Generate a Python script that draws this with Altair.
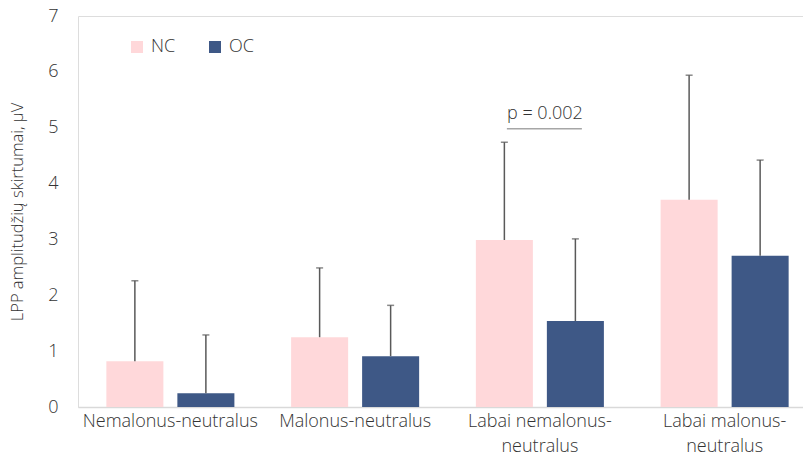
import altair as alt
import pandas as pd

# Conditions and group statistics (mean and SD of LPP amplitude differences, µV)
categories = [
    "Nemalonus-neutralus",
    "Malonus-neutralus",
    "Labai nemalonus-neutralus",
    "Labai malonus-neutralus",
]
groups = ["NC", "OC"]
nc_mean = [0.82, 1.25, 2.99, 3.71]
nc_sd = [1.44, 1.24, 1.75, 2.23]
oc_mean = [0.245, 0.91, 1.54, 2.71]
oc_sd = [1.045, 0.91, 1.47, 1.71]

p_label = "p = 0.002"
p_category = "Labai nemalonus-neutralus"
p_level = 4.98

colors = ["#ffd8da", "#3e5886"]
font = "Open Sans"
text_color = "#333333"

rows = []
for g, means, sds in (("NC", nc_mean, nc_sd), ("OC", oc_mean, oc_sd)):
    for c, m, s in zip(categories, means, sds):
        rows.append({"cat": c, "grp": g, "mean": m, "upper": m + s})
df = pd.DataFrame(rows)

x_enc = alt.X(
    "cat:N",
    sort=categories,
    title=None,
    scale=alt.Scale(range=[0, 739], paddingInner=0.307, paddingOuter=0.1535),
    axis=alt.Axis(
        labelAngle=0,
        labelFont=font,
        labelFontSize=18,
        labelFontWeight=300,
        labelColor=text_color,
        labelPadding=5,
        labelLimit=400,
        labelLineHeight=25,
        labelExpr="length(datum.label) > 20 ? [slice(datum.label, 0, indexof(datum.label, '-') + 1), slice(datum.label, indexof(datum.label, '-') + 1)] : datum.label",
        ticks=False,
        domainColor="#d9d9d9",
        domainWidth=1.5,
        grid=False,
    ),
)
xoff_enc = alt.XOffset(
    "grp:N", sort=groups, scale=alt.Scale(paddingInner=0.197, paddingOuter=0)
)
y_scale = alt.Scale(domain=[0, 7], nice=False)

bars = (
    alt.Chart(df)
    .mark_bar()
    .encode(
        x=x_enc,
        xOffset=xoff_enc,
        y=alt.Y(
            "mean:Q",
            scale=y_scale,
            title="LPP amplitudžių skirtumai, μV",
            axis=alt.Axis(
                values=[0, 1, 2, 3, 4, 5, 6, 7],
                format="d",
                grid=False,
                domain=False,
                ticks=False,
                labelFont=font,
                labelFontSize=18,
                labelFontWeight=300,
                labelColor=text_color,
                labelPadding=20,
                titleFont=font,
                titleFontSize=16.5,
                titleFontWeight=300,
                titleColor=text_color,
                titlePadding=22,
            ),
        ),
        color=alt.Color(
            "grp:N",
            sort=groups,
            scale=alt.Scale(domain=groups, range=colors),
            legend=alt.Legend(
                title=None,
                orient="none",
                direction="horizontal",
                legendX=50,
                legendY=22,
                symbolType="square",
                symbolSize=144,
                symbolStrokeWidth=0,
                labelFont=font,
                labelFontSize=18,
                labelFontWeight=300,
                labelColor=text_color,
                labelOffset=5,
                columnPadding=30,
            ),
        ),
    )
)

err = (
    alt.Chart(df)
    .mark_rule(color="#595959", strokeWidth=1.5)
    .encode(x=x_enc, xOffset=xoff_enc, y=alt.Y("mean:Q", scale=y_scale), y2="upper:Q")
)

caps = (
    alt.Chart(df)
    .mark_tick(color="#595959", size=7, thickness=1.5)
    .encode(x=x_enc, xOffset=xoff_enc, y=alt.Y("upper:Q", scale=y_scale))
)

pdf = pd.DataFrame({"cat": [p_category], "level": [p_level], "label": [p_label]})

p_line = (
    alt.Chart(pdf)
    .mark_rule(color="#a6a6a6", strokeWidth=1.5, xOffset=-33, x2Offset=42)
    .encode(x=x_enc, x2="cat:N", y=alt.Y("level:Q", scale=y_scale))
)

p_text = (
    alt.Chart(pdf)
    .mark_text(
        font=font,
        fontSize=18,
        fontWeight=300,
        color=text_color,
        baseline="alphabetic",
        dy=-10,
        dx=5,
    )
    .encode(x=x_enc, y=alt.Y("level:Q", scale=y_scale), text="label:N")
)

chart = (
    alt.layer(bars, err, caps, p_line, p_text)
    .properties(
        width=725,
        height=391,
        autosize=alt.AutoSizeParams(type="none"),
        padding={"left": 78, "top": 16, "right": 0, "bottom": 49},
    )
    .configure_view(stroke=None)
    .configure(background="white")
)

chart.save("out.html", embed_options={"renderer": "svg", "actions": False})
